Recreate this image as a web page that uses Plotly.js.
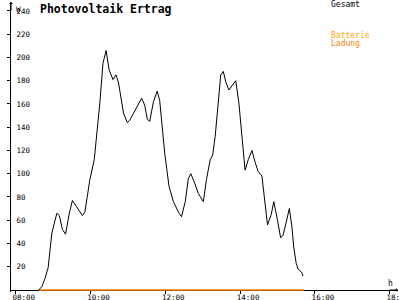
<!DOCTYPE html>
<html><head><meta charset="utf-8">
<script src="https://cdn.plot.ly/plotly-3.0.1.min.js"></script>
<style>html,body{margin:0;padding:0;background:#fff}#c{width:400px;height:300px}</style>
</head><body><div id="c"></div>
<script>
const day = "2024-06-01 ";
const times = ["08:37","08:42","08:47","08:52","08:58","09:06","09:10","09:15","09:20","09:26","09:31","09:40","09:47","09:51","09:59","10:06","10:10","10:15","10:20","10:25","10:30","10:36","10:41","10:45","10:53","10:59","11:03","11:13","11:22","11:27","11:31","11:35","11:41","11:47","11:51","11:59","12:06","12:13","12:21","12:26","12:32","12:37","12:41","12:47","12:53","13:01","13:06","13:12","13:16","13:20","13:25","13:29","13:33","13:37","13:42","13:48","13:53","13:58","14:03","14:08","14:13","14:19","14:24","14:29","14:35","14:40","14:44","14:50","14:54","15:00","15:05","15:09","15:15","15:19","15:23","15:26","15:30","15:33","15:39","15:41"];
const gesamt = [0,3,10,19,49,66,64,52,48,66,77,69,64,67,95,112,132,161,195,206,189,181,185,178,152,144,146,156,165,159,147,145,162,171,163,118,89,76,67,63,76,96,100,92,83,76,95,112,116,132,161,185,188,179,172,177,180,161,129,103,112,120,110,102,98,75,56,65,76,60,45,47,62,70,55,37,23,18,15,12];
const ladungTimes = ["08:37","15:42"];
const ladung = [0,0];
const xTickVals = ["08:00","10:00","12:00","14:00","16:00","18:00"];
const yTickVals = [20,40,60,80,100,120,140,160,180,200,220,240];

const mono = "DejaVu Sans Mono, monospace";
const xr = [day+"07:52:27", day+"18:13:19"];
const yr = [-1.72, 247.7];
const T = 2, B = 292, L = 11, R = 398;           // plot area in pixels
const zeroPos = (B - 290) / (B - T);             // where value 0 lies, in paper units
const px = x => (x - L) / (R - L);
const py = y => (B - y) / (B - T);

const traces = [
  {x: ladungTimes.map(t=>day+t), y: ladung, type:"scatter", mode:"lines",
   line:{color:"#ff8000", width:1.3}, name:"Batterie Ladung", hoverinfo:"skip"},
  {x: times.map(t=>day+t), y: gesamt, type:"scatter", mode:"lines",
   line:{color:"#000", width:1}, name:"Gesamt", hoverinfo:"skip"}
];

const layout = {
  width:400, height:300,
  margin:{l:L, r:400-R, t:T, b:300-B, pad:0},
  paper_bgcolor:"#fff", plot_bgcolor:"#fff",
  showlegend:false,
  title:{text:"<b>Photovoltaik Ertrag</b>", font:{family:mono, size:11.5, color:"#000"},
         xref:"container", yref:"container", x:0.1, xanchor:"left", y:1-9/300, yanchor:"middle"},
  xaxis:{type:"date", range:xr, tickvals:xTickVals.map(t=>day+t), tickformat:"%H:%M",
         anchor:"free", position:zeroPos,
         showgrid:false, zeroline:false, showline:true, linecolor:"#000", linewidth:1,
         ticks:"outside", ticklen:3, tickcolor:"#000", tickwidth:1,
         tickfont:{family:mono, size:7.5, color:"#000"}, ticklabelshift:8, ticklabelstandoff:-3,
         ticklabeloverflow:"allow", layer:"below traces", fixedrange:true},
  xaxis2:{type:"date", range:xr, overlaying:"x", anchor:"free", position:zeroPos, side:"bottom",
          tickvals:xTickVals.map(t=>day+t), showticklabels:false, showgrid:false, zeroline:false,
          ticks:"inside", ticklen:3, tickcolor:"#000", showline:false, layer:"below traces"},
  yaxis:{range:yr, tickvals:yTickVals, showgrid:false, zeroline:false, showline:true,
         linecolor:"#000", linewidth:1, ticks:"outside", ticklen:3, tickcolor:"#000",
         ticklabelposition:"inside", ticklabelstandoff:4, ticklabeloverflow:"allow",
         tickfont:{family:mono, size:7.5, color:"#000"}, layer:"below traces", fixedrange:true},
  yaxis2:{range:yr, overlaying:"y", anchor:"x", side:"left", tickvals:yTickVals,
          showticklabels:false, showgrid:false, zeroline:false, ticks:"inside", ticklen:3,
          tickcolor:"#000", showline:false},
  annotations:[
    {xref:"paper", yref:"paper", x:0, y:1, ax:0, ay:10, showarrow:true, arrowhead:1, arrowsize:0.7, arrowwidth:1, arrowcolor:"#000", text:""},
    {xref:"paper", yref:"paper", x:1, y:zeroPos, ax:-10, ay:0, showarrow:true, arrowhead:1, arrowsize:0.7, arrowwidth:1, arrowcolor:"#000", text:""},
    {xref:"paper", yref:"paper", x:0, y:1, xshift:3, yshift:-1, xanchor:"left", yanchor:"top", showarrow:false, text:"W", font:{family:mono, size:7.5, color:"#000"}},
    {xref:"paper", yref:"paper", x:px(386), y:py(283), xanchor:"left", yanchor:"middle", showarrow:false, text:"h", font:{family:mono, size:8, color:"#000"}},
    {xref:"paper", yref:"paper", x:px(329), y:py(4.5), xanchor:"left", yanchor:"middle", showarrow:false, text:"Gesamt", font:{family:mono, size:8, color:"#000"}},
    {xref:"paper", yref:"paper", x:px(329), y:py(35), xanchor:"left", yanchor:"middle", showarrow:false, text:"Batterie", font:{family:mono, size:8, color:"#ffa500"}},
    {xref:"paper", yref:"paper", x:px(329), y:py(44), xanchor:"left", yanchor:"middle", showarrow:false, text:"Ladung", font:{family:mono, size:8, color:"#ff8000"}}
  ]
};
Plotly.newPlot("c", traces, layout, {staticPlot:true, displayModeBar:false});
</script></body></html>
